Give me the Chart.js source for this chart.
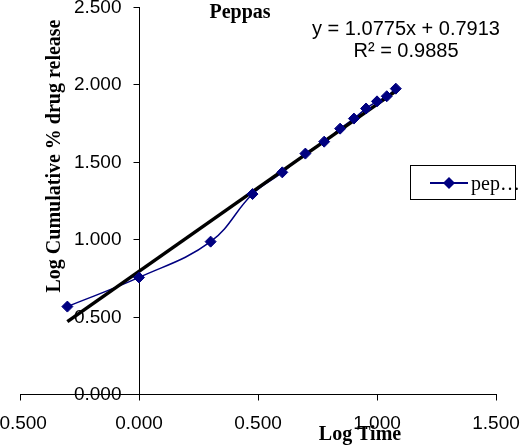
<!DOCTYPE html>
<html>
<head>
<meta charset="utf-8">
<script src="https://cdn.jsdelivr.net/npm/chart.js@4/dist/chart.umd.min.js"></script>
<style>
    html, body { margin: 0; padding: 0; background: #ffffff; }
    #wrap { width: 526px; height: 446px; }
</style>
</head>
<body>
<div id="wrap"><canvas id="peppasChart" width="526" height="446"></canvas></div>
<script>
// Peppas data (log time vs log cumulative % drug release)
const logTime = [-0.301, 0.000, 0.301, 0.477, 0.602, 0.699, 0.778, 0.845, 0.903, 0.954, 1.000, 1.041, 1.079];
const logRelease = [0.564, 0.752, 0.983, 1.290, 1.430, 1.551, 1.628, 1.712, 1.777, 1.842, 1.888, 1.921, 1.970];

// Linear trendline as printed on the chart
const trendSlope = 1.0775;
const trendIntercept = 0.7913;
const trendR2 = 0.9885;

// Axis ticks
const xTicks = [-0.5, 0, 0.5, 1.0, 1.5];
const yTicks = [0, 0.5, 1.0, 1.5, 2.0, 2.5];

const seriesName = 'peppas';
const navy = '#000080';

(() => {
    'use strict';

    const points = logTime.map((x, i) => ({ x: x, y: logRelease[i] }));
    const xFirst = logTime[0];
    const xLast = logTime[logTime.length - 1];
    const trendPoints = [xFirst, xLast].map(x => ({ x: x, y: trendSlope * x + trendIntercept }));

    const sans = '"Liberation Sans", Arial, sans-serif';
    const serif = '"Liberation Serif", "Times New Roman", serif';

    // Axes, titles, equation and legend drawn by hand (Excel look)
    const decorations = {
        id: 'decorations',
        beforeDatasetsDraw(chart) {
            const ctx = chart.ctx;
            const xs = chart.scales.x;
            const ys = chart.scales.y;
            const x0 = Math.round(xs.getPixelForValue(0)) + 0.5;
            const y0 = Math.round(ys.getPixelForValue(0)) + 0.5;

            ctx.save();
            ctx.strokeStyle = '#000000';
            ctx.lineWidth = 1;

            // x axis line + ticks
            ctx.beginPath();
            ctx.moveTo(Math.round(xs.getPixelForValue(xTicks[0])), y0);
            ctx.lineTo(Math.round(xs.getPixelForValue(xTicks[xTicks.length - 1])) + 1, y0);
            xTicks.forEach(t => {
                const px = Math.round(xs.getPixelForValue(t)) + 0.5;
                ctx.moveTo(px, y0);
                ctx.lineTo(px, y0 + 6);
            });
            // y axis line + ticks
            ctx.moveTo(x0, Math.round(ys.getPixelForValue(yTicks[yTicks.length - 1])));
            ctx.lineTo(x0, y0);
            yTicks.forEach(t => {
                const py = Math.round(ys.getPixelForValue(t)) + 0.5;
                ctx.moveTo(x0 - 6, py);
                ctx.lineTo(x0, py);
            });
            ctx.stroke();

            // tick labels
            ctx.fillStyle = '#000000';
            ctx.font = '19px ' + sans;
            ctx.textAlign = 'center';
            ctx.textBaseline = 'middle';
            xTicks.forEach(t => {
                ctx.fillText(t.toFixed(3), xs.getPixelForValue(t), y0 + 29);
            });
            ctx.textAlign = 'right';
            yTicks.forEach(t => {
                ctx.fillText(t.toFixed(3), x0 - 18, ys.getPixelForValue(t) + 1);
            });

            // chart title
            ctx.font = 'bold 20px ' + serif;
            ctx.textAlign = 'center';
            ctx.textBaseline = 'alphabetic';
            ctx.fillText('Peppas', 240, 18);

            // axis titles
            ctx.fillText('Log Time', 360, 440);
            ctx.save();
            ctx.translate(60, 156);
            ctx.rotate(-Math.PI / 2);
            ctx.fillText('Log Cumulative % drug release', 0, 0);
            ctx.restore();

            // trendline equation
            ctx.font = '20px ' + sans;
            ctx.textBaseline = 'middle';
            ctx.fillText('y = ' + trendSlope + 'x + ' + trendIntercept, 406, 29);
            ctx.fillText('R\u00b2 = ' + trendR2, 406, 51);

            // legend box
            ctx.strokeStyle = '#000000';
            ctx.lineWidth = 1;
            ctx.strokeRect(410.5, 165.5, 105, 34);
            ctx.strokeStyle = navy;
            ctx.lineWidth = 2;
            ctx.beginPath();
            ctx.moveTo(430, 183);
            ctx.lineTo(468, 183);
            ctx.stroke();
            ctx.fillStyle = navy;
            ctx.beginPath();
            ctx.moveTo(443, 183);
            ctx.lineTo(449, 177);
            ctx.lineTo(455, 183);
            ctx.lineTo(449, 189);
            ctx.closePath();
            ctx.fill();
            ctx.fillStyle = '#000000';
            ctx.font = '20px ' + serif;
            ctx.textAlign = 'left';
            ctx.textBaseline = 'alphabetic';
            ctx.fillText(seriesName.slice(0, 3) + '\u2026', 471, 190);

            ctx.restore();
        }
    };

    const whiteBg = {
        id: 'whiteBg',
        beforeDraw(chart) {
            const ctx = chart.ctx;
            ctx.save();
            ctx.fillStyle = '#ffffff';
            ctx.fillRect(0, 0, chart.width, chart.height);
            ctx.restore();
        }
    };

    new Chart(document.getElementById('peppasChart'), {
        type: 'scatter',
        data: {
            datasets: [{
                label: seriesName,
                data: points,
                showLine: true,
                borderColor: navy,
                borderWidth: 1.5,
                tension: 0.4,
                pointRadius: 0,
                order: 3
            }, {
                label: 'Linear (' + seriesName + ')',
                data: trendPoints,
                showLine: true,
                borderColor: '#000000',
                borderWidth: 3.5,
                pointRadius: 0,
                order: 2
            }, {
                label: seriesName + ' markers',
                data: points,
                showLine: false,
                pointStyle: 'rectRot',
                pointRadius: 5.5,
                backgroundColor: navy,
                borderColor: navy,
                borderWidth: 1,
                order: 1
            }]
        },
        options: {
            responsive: false,
            animation: false,
            layout: { padding: { left: 20, right: 30, top: 4, bottom: 52 } },
            plugins: {
                legend: { display: false },
                tooltip: { enabled: false }
            },
            scales: {
                x: { type: 'linear', min: -0.5, max: 1.5, display: false },
                y: { type: 'linear', min: 0, max: 2.5, display: false }
            }
        },
        plugins: [whiteBg, decorations]
    });
})();
</script>
</body>
</html>
